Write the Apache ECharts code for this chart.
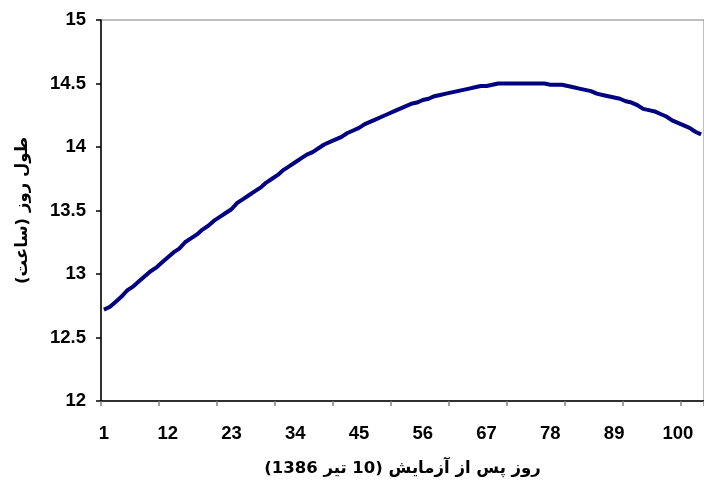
<!DOCTYPE html>
<html>
<head>
<meta charset="utf-8">
<script src="https://cdn.jsdelivr.net/npm/echarts@6/dist/echarts.min.js"></script>
<style>
  html, body { margin: 0; padding: 0; background: #fff; }
  #chart { width: 704px; height: 482px; }
</style>
</head>
<body>
<div id="chart"></div>
<script>
// Day numbers after the start of the experiment (1 .. 104)
const days = [];
for (let d = 1; d <= 104; d++) days.push(String(d));

// Day length in hours for each day
const dayLength = [
  12.72, 12.74, 12.78, 12.82, 12.87, 12.90, 12.94, 12.98, 13.02, 13.05,
  13.09, 13.13, 13.17, 13.20, 13.25, 13.28, 13.31, 13.35, 13.38, 13.42,
  13.45, 13.48, 13.51, 13.56, 13.59, 13.62, 13.65, 13.68, 13.72, 13.75,
  13.78, 13.82, 13.85, 13.88, 13.91, 13.94, 13.96, 13.99, 14.02, 14.04,
  14.06, 14.08, 14.11, 14.13, 14.15, 14.18, 14.20, 14.22, 14.24, 14.26,
  14.28, 14.30, 14.32, 14.34, 14.35, 14.37, 14.38, 14.40, 14.41, 14.42,
  14.43, 14.44, 14.45, 14.46, 14.47, 14.48, 14.48, 14.49, 14.50, 14.50,
  14.50, 14.50, 14.50, 14.50, 14.50, 14.50, 14.50, 14.49, 14.49, 14.49,
  14.48, 14.47, 14.46, 14.45, 14.44, 14.42, 14.41, 14.40, 14.39, 14.38,
  14.36, 14.35, 14.33, 14.30, 14.29, 14.28, 14.26, 14.24, 14.21, 14.19,
  14.17, 14.15, 14.12, 14.10
];

// Value axis range and step
const yMin = 12, yMax = 15, yStep = 0.5;

const xTitle = '\u202Bروز پس از آزمایش (10 تیر 1386)\u202C';
const yTitle = '\u202Bطول روز (ساعت)\u202C';

const labelFont = { fontFamily: 'Liberation Sans, Arial, sans-serif', fontWeight: 'bold', fontSize: 18.5, color: '#000' };
const titleFont = { fontFamily: 'DejaVu Sans, Noto Sans, sans-serif', fontWeight: 'bold', fontSize: 16.5, color: '#000' };

const chart = echarts.init(document.getElementById('chart'), null, { renderer: 'canvas' });
chart.setOption({
  animation: false,
  backgroundColor: '#fff',
  grid: {
    left: 101, right: -2, top: 20, bottom: 81,
    show: true, borderColor: '#808080', borderWidth: 1, backgroundColor: 'transparent'
  },
  xAxis: {
    type: 'category',
    data: days,
    boundaryGap: true,
    axisLine: { lineStyle: { color: '#000', width: 1.5 } },
    axisTick: { show: true, interval: 9, length: 5, lineStyle: { color: '#808080', width: 1.5 } },
    axisLabel: Object.assign({ interval: 10, margin: 23 }, labelFont),
    splitLine: { show: false },
    name: xTitle,
    nameLocation: 'middle',
    nameGap: 59,
    nameTextStyle: titleFont
  },
  yAxis: {
    type: 'value',
    min: yMin, max: yMax, interval: yStep,
    axisLine: { show: true, lineStyle: { color: '#000', width: 1.5 } },
    axisTick: { show: true, length: 5, inside: false, lineStyle: { color: '#000', width: 1.5 } },
    axisLabel: Object.assign({ margin: 15 }, labelFont),
    splitLine: { show: false },
    name: yTitle,
    nameLocation: 'middle',
    nameGap: 70,
    nameTextStyle: titleFont
  },
  series: [{
    type: 'line',
    data: dayLength,
    showSymbol: false,
    smooth: false,
    lineStyle: { color: '#000080', width: 4 },
    itemStyle: { color: '#000080' }
  }]
});
</script>
</body>
</html>
